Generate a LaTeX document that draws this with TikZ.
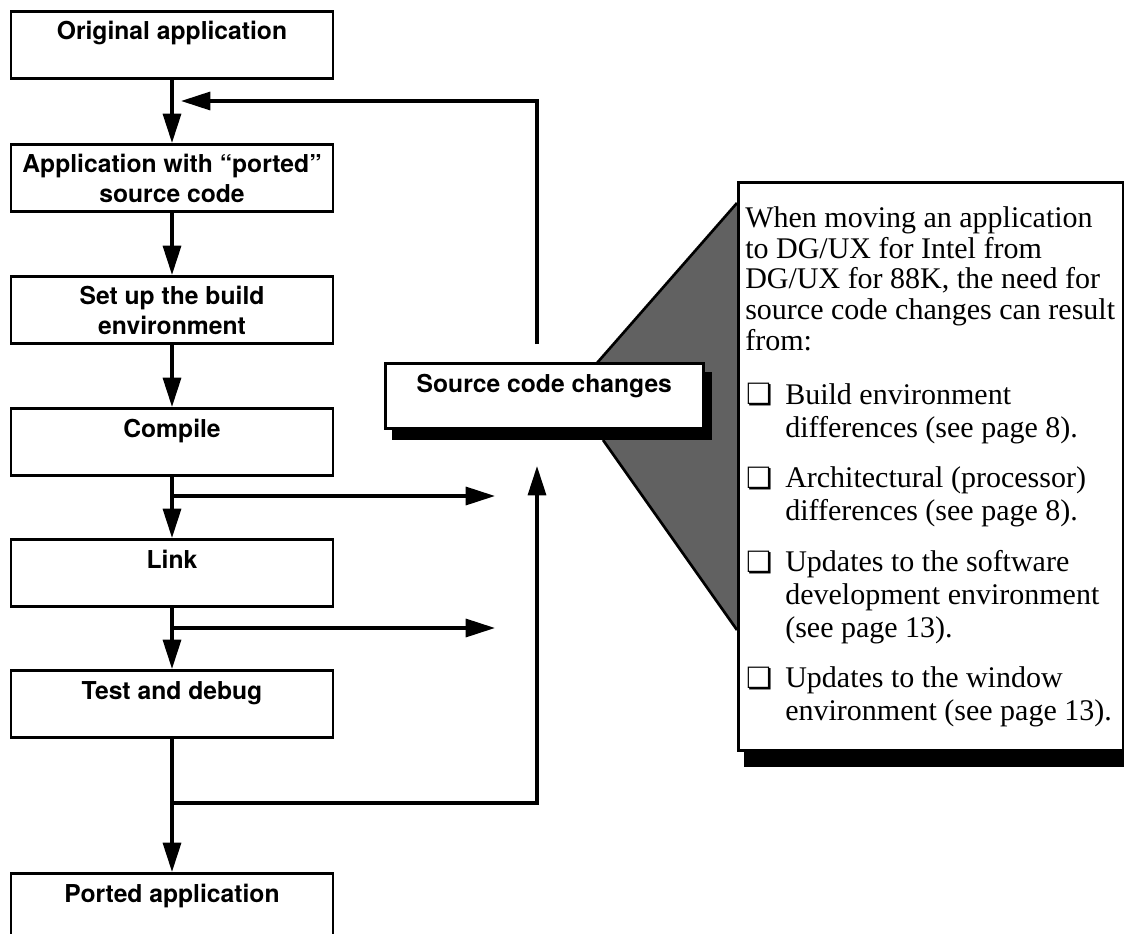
\documentclass[tikz,border=0pt]{standalone}
\usepackage{fontspec}
\setmainfont{Liberation Serif}
\newfontfamily\stepfont{TeX Gyre Heros}
\newfontfamily\chkfont{DejaVu Sans}
\usetikzlibrary{arrows.meta,positioning}
\newcommand{\boxtext}[3]{\parbox[t][#2][t]{#1}{\centering\rule{0pt}{21.5pt}#3}}

\begin{document}
\begin{tikzpicture}[x=0.75pt, y=-0.75pt,
    stepbox/.style={draw=black, line width=2pt, fill=white, inner sep=0pt, anchor=north,
      font=\stepfont\bfseries\fontsize{18.5}{22.5}\selectfont},
    flow/.style={draw=black, line width=2.5pt, -{Triangle[length=22pt,width=13.5pt]}},
    edge/.style={draw=black, line width=2pt},
    notetext/.style={inner sep=0pt, anchor=base west, align=left,
      font=\fontsize{22.5}{24.75}\selectfont},
    chkbox/.style={inner sep=0pt, font=\chkfont\fontsize{22}{22}\selectfont}]
    \useasboundingbox (0,0) rectangle (1124,934);

    \fill[black!62] (737,203) -- (597,363) -- (603,440) -- (737,630) -- cycle;
    \draw[edge] (737,203) -- (597,363);
    \draw[edge] (603,440) -- (737,630);
    \fill[black] (744,748) rectangle (1135,767);
    \node[draw=black, line width=2pt, fill=white, inner sep=0pt, anchor=north west,
      minimum width=288.75pt, minimum height=426pt] (note) at (737,181) {};

    \fill[black] (392,372) rectangle (712,440);
    \node[stepbox, anchor=north west] (src) at (384,362) {\boxtext{238.5pt}{49pt}{Source code changes}};

    \node[stepbox] (orig) at (172,10) {\boxtext{241.5pt}{50.5pt}{Original application}};
    \node[stepbox] (appsrc) at (172,143) {\boxtext{241.5pt}{50.5pt}{Application with “ported”\\source code}};
    \node[stepbox] (setup) at (172,275) {\boxtext{241.5pt}{50.5pt}{Set up the build\\environment}};
    \node[stepbox] (compile) at (172,407) {\boxtext{241.5pt}{50.5pt}{Compile}};
    \node[stepbox] (link) at (172,538) {\boxtext{241.5pt}{50.5pt}{Link}};
    \node[stepbox] (test) at (172,669) {\boxtext{241.5pt}{50.5pt}{Test and debug}};
    \node[stepbox] (ported) at (172,872) {\boxtext{241.5pt}{50.5pt}{Ported application}};

    \coordinate (compilej) at (172,496);
    \coordinate (compileend) at (495,496);
    \coordinate (linkj) at (172,628);
    \coordinate (linkend) at (495,628);
    \coordinate (testj) at (172,803);
    \coordinate (looptip) at (537,466);
    \coordinate (loopstart) at (537,344);
    \coordinate (looptop) at (181,101);

    \draw[flow] (orig) -- (appsrc);
    \draw[flow] (appsrc) -- (setup);
    \draw[flow] (setup) -- (compile);
    \draw[flow] (compile) -- (link);
    \draw[flow] (link) -- (test);
    \draw[flow] (test) -- (ported);
    \draw[flow] (compilej) -- (compileend);
    \draw[flow] (linkj) -- (linkend);
    \draw[flow] (testj) -| (looptip);
    \draw[flow] (loopstart) |- (looptop);

    \node[notetext, font=\fontsize{22.5}{23}\selectfont] (intro) at (745,350) {When moving an application\\to DG/UX for Intel from\\DG/UX for 88K, the need for\\source code changes can result\\from:};
    \node[chkbox] (chk1) at (760,395) {❏};
    \node[notetext] (item1) at (785,437) {Build environment\\differences (see page 8).};
    \node[chkbox] (chk2) at (760,479) {❏};
    \node[notetext] (item2) at (785,520) {Architectural (processor)\\differences (see page 8).};
    \node[chkbox] (chk3) at (760,563) {❏};
    \node[notetext] (item3) at (785,637) {Updates to the software\\development environment\\(see page 13).};
    \node[chkbox] (chk4) at (760,679) {❏};
    \node[notetext] (item4) at (785,720) {Updates to the window\\environment (see page 13).};
\end{tikzpicture}
\end{document}
